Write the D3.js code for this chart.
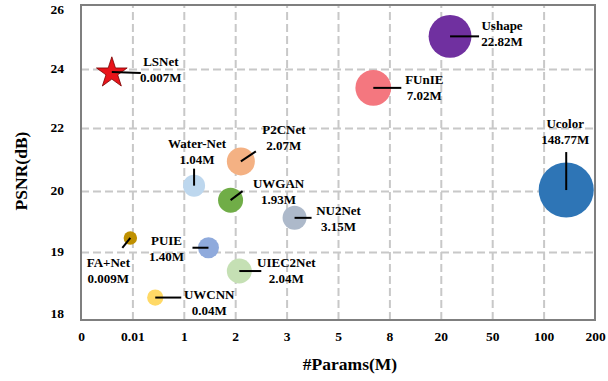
<!DOCTYPE html>
<html>
<head>
<meta charset="utf-8">
<script src="https://cdn.jsdelivr.net/npm/d3@7"></script>
<style>
  body { margin: 0; background: #fff; }
  text { font-family: "Liberation Serif", "Times New Roman", serif; font-weight: bold; fill: #000; }
</style>
</head>
<body>
<script>
// chart data
const models = ["LSNet", "Ushape", "FUnIE", "Ucolor", "P2CNet", "Water-Net", "UWGAN", "NU2Net", "PUIE", "FA+Net", "UWCNN", "UIEC2Net"];
const paramLabels = ["0.007M", "22.82M", "7.02M", "148.77M", "2.07M", "1.04M", "1.93M", "3.15M", "1.40M", "0.009M", "0.04M", "2.04M"];
// where each bubble sits on the (piecewise) params axis
const paramsX = [0.006, 25.4, 7.06, 144, 2.11, 1.2, 1.91, 3.31, 1.48, 0.0096, 0.45, 2.08];
const psnr = [23.9, 25.02, 23.36, 20.03, 20.94, 20.17, 19.85, 19.56, 19.07, 19.23, 18.33, 18.72];
const bubbleSize = [260, 460, 320, 760, 196, 121, 156, 144, 110, 45, 66, 156];
const colors = ["#e8141a", "#7030a0", "#f4777f", "#2e75b6", "#f4b183", "#bdd7ee", "#70ad47", "#adb9ca", "#8faadc", "#bf9000", "#ffd966", "#c5e0b4"];

const xTicks = [0, 0.01, 1, 2, 3, 5, 8, 20, 50, 100, 200];
const yTicks = [18, 19, 20, 22, 24, 26];

// label layout: [line end dx, line end dy, text dx, first baseline dy]
const labelLayout = {
  "LSNet": [29, 1, 49, -6],
  "Ushape": [29, 0, 52, -6],
  "FUnIE": [28, 0, 51, -4],
  "Ucolor": [0, -38, -1, -62],
  "P2CNet": [15, -10, 43, -27],
  "Water-Net": [0, -17, 3, -38],
  "UWGAN": [12, -9, 48, -12],
  "NU2Net": [17, 0, 44, -3],
  "PUIE": [-16, 0, -42, -3],
  "FA+Net": [-8, 10, -22, 29],
  "UWCNN": [26, 0, 54, 1],
  "UIEC2Net": [22, 0, 47, -4]
};

const W = 608, H = 381;
const plotL = 81, plotR = 595, plotT = 5, plotB = 320;

const svg = d3.select("body").append("svg")
  .attr("width", W)
  .attr("height", H);

// both axes are evenly spaced between ticks, not linear in value
const x = d3.scaleLinear()
  .domain(xTicks)
  .range(xTicks.map((d, i) => plotL + i * (plotR - plotL) / (xTicks.length - 1)));
const y = d3.scaleLinear()
  .domain(yTicks)
  .range([320, 252, 191, 128, 69, 5]);
const r = d3.scaleSqrt().domain([0, 100]).range([0, 10]);

// grid
const gridStyle = g => {
  g.select(".domain").remove();
  g.selectAll("line")
    .attr("stroke", "#c8c8c8")
    .attr("stroke-width", 2)
    .attr("stroke-dasharray", "8,4");
};
svg.append("g")
  .attr("transform", "translate(0," + plotB + ")")
  .call(d3.axisBottom(x).tickValues(xTicks.slice(1, -1)).tickSize(-(plotB - plotT)).tickFormat(""))
  .call(gridStyle);
svg.append("g")
  .attr("transform", "translate(" + plotL + ",0)")
  .call(d3.axisLeft(y).tickValues(yTicks.slice(1, -1)).tickSize(-(plotR - plotL)).tickFormat(""))
  .call(gridStyle);

// frame
svg.append("rect")
  .attr("x", plotL).attr("y", plotT)
  .attr("width", plotR - plotL).attr("height", plotB - plotT)
  .attr("fill", "none")
  .attr("stroke", "#7f7f7f")
  .attr("stroke-width", 2);

// tick labels
const xAxis = svg.append("g")
  .attr("transform", "translate(0," + plotB + ")")
  .call(d3.axisBottom(x).tickValues(xTicks).tickSize(0).tickPadding(11).tickFormat(d => String(d)));
xAxis.select(".domain").remove();
xAxis.selectAll("text").style("font-size", "13.5px").attr("fill", "#000");

const yAxis = svg.append("g")
  .attr("transform", "translate(" + plotL + ",0)")
  .call(d3.axisLeft(y).tickValues(yTicks).tickSize(0).tickPadding(17));
yAxis.select(".domain").remove();
yAxis.selectAll("text").style("font-size", "13.5px").attr("fill", "#000");
yAxis.selectAll(".tick").attr("transform", d => "translate(0," + Math.min(314, Math.max(10, y(d))) + ")");

// axis titles
svg.append("text")
  .attr("x", 350).attr("y", 370)
  .attr("text-anchor", "middle")
  .style("font-size", "17.5px")
  .text("#Params(M)");
svg.append("text")
  .attr("transform", "translate(27,171) rotate(-90)")
  .attr("text-anchor", "middle")
  .style("font-size", "17.5px")
  .text("PSNR(dB)");

const points = models.map((m, i) => ({
  name: m, label: paramLabels[i], cx: x(paramsX[i]), cy: y(psnr[i]),
  size: bubbleSize[i], color: colors[i]
}));

// bubbles (LSNet is the star)
svg.selectAll(".bubble")
  .data(points.filter(d => d.name !== "LSNet"))
  .enter().append("circle")
  .attr("class", "bubble")
  .attr("cx", d => d.cx)
  .attr("cy", d => d.cy)
  .attr("r", d => r(d.size))
  .attr("fill", d => d.color);

const star = points[0];
svg.append("path")
  .attr("d", d3.symbol(d3.symbolStar).size(r(star.size) * r(star.size) / 0.89)())
  .attr("transform", "translate(" + star.cx + "," + (star.cy + 1) + ")")
  .attr("fill", star.color)
  .attr("stroke", "#7a0000")
  .attr("stroke-width", 0.8);

// leader lines and labels
points.forEach(d => {
  const [lx, ly, tx, ty] = labelLayout[d.name];
  svg.append("line")
    .attr("x1", d.cx).attr("y1", d.cy)
    .attr("x2", d.cx + lx).attr("y2", d.cy + ly)
    .attr("stroke", "#000")
    .attr("stroke-width", 2);
  const t = svg.append("text")
    .attr("text-anchor", "middle")
    .style("font-size", "13px");
  t.append("tspan").attr("x", d.cx + tx).attr("y", d.cy + ty).text(d.name);
  t.append("tspan").attr("x", d.cx + tx).attr("y", d.cy + ty + 16).text(d.label);
});
</script>
</body>
</html>
